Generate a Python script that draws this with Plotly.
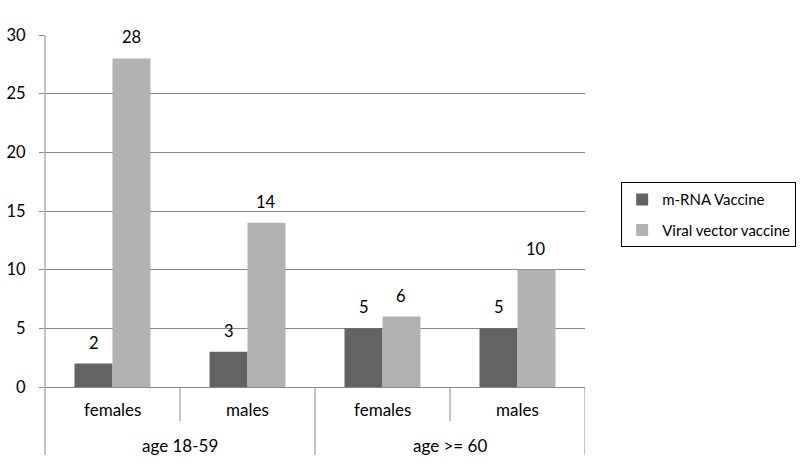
import plotly.graph_objects as go

groups = ["age 18-59", "age 18-59", "age >= 60", "age >= 60"]
subgroups = ["females", "males", "females", "males"]
series_names = ["m-RNA Vaccine", "Viral vector vaccine"]
mrna = [2, 3, 5, 5]
viral = [28, 14, 6, 10]
colors = ["#636363", "#b2b2b2"]
FONT = "Lato, Open Sans, sans-serif"

xs = list(range(len(subgroups)))
fig = go.Figure()
for name, vals, col in zip(series_names, [mrna, viral], colors):
    fig.add_trace(go.Bar(x=xs, y=vals, name=name, legendgroup=name,
                         marker=dict(color=col, line=dict(width=0))))

# value labels
offs = [-0.14, 0.14]
for o, vals in zip(offs, [mrna, viral]):
    for x, v in zip(xs, vals):
        fig.add_annotation(x=x + o, y=v, text=str(v), showarrow=False, yanchor="bottom",
                           yshift=9, font=dict(size=16.5, color="black", family=FONT))

# category labels
for x, s in zip(xs, subgroups):
    fig.add_annotation(x=x, y=-0.065, yref="paper", text=s, showarrow=False,
                       xanchor="center", yanchor="middle",
                       font=dict(size=17, color="black", family=FONT))
outer = []
for g in groups:
    if g not in outer:
        outer.append(g)
for g in outer:
    idx = [i for i, gg in enumerate(groups) if gg == g]
    fig.add_annotation(x=sum(idx) / len(idx), y=-0.165, yref="paper", text=g, showarrow=False,
                       xanchor="center", yanchor="middle",
                       font=dict(size=17, color="black", family=FONT))

lc = "#878787"
# dividers
fig.add_shape(type="line", xref="paper", yref="paper", x0=0, x1=0, y0=1, y1=-0.193,
              line=dict(color=lc, width=1))
for xv in [1.5, 3.5]:
    fig.add_shape(type="line", xref="x", yref="paper", x0=xv, x1=xv, y0=0, y1=-0.193,
                  line=dict(color=lc, width=1))
for xv in [0.5, 2.5]:
    fig.add_shape(type="line", xref="x", yref="paper", x0=xv, x1=xv, y0=0, y1=-0.097,
                  line=dict(color=lc, width=1))

fig.update_layout(
    width=800, height=471,
    margin=dict(l=45, r=215, t=35, b=84, autoexpand=False),
    paper_bgcolor="white", plot_bgcolor="white",
    barmode="group", bargap=0.437, bargroupgap=0,
    font=dict(family=FONT, size=16, color="black"),
    showlegend=True,
    legend=dict(x=1.067, xanchor="left", y=0.489, yanchor="middle",
                bordercolor="black", borderwidth=1, font=dict(size=15, family=FONT),
                bgcolor="white", tracegroupgap=8, itemwidth=30),
    xaxis=dict(range=[-0.5, 3.5], showticklabels=False, showgrid=False, zeroline=False,
               showline=False, ticks="", automargin=False),
    yaxis=dict(range=[0, 30], dtick=5, showgrid=True, gridcolor=lc, gridwidth=1,
               zeroline=True, zerolinecolor=lc, zerolinewidth=1, showline=False,
               ticks="outside", ticklen=5, tickcolor=lc, tickfont=dict(size=16.5),
               ticklabelstandoff=10, automargin=False),
)
fig.write_html("out.html", config={"displayModeBar": False},
               post_script="document.body.style.margin='0';document.body.style.overflow='hidden';")
